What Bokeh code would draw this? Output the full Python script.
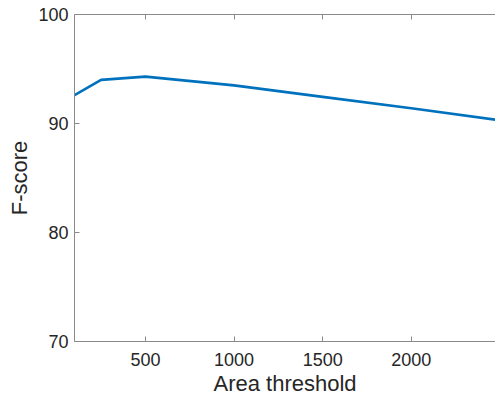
from bokeh.plotting import figure
from bokeh.models import LinearAxis, FixedTicker, Range1d
from bokeh.embed import file_html
from bokeh.resources import INLINE

area_threshold = [100, 250, 500, 1000, 1500, 2000, 2500]
f_score = [92.6, 94.0, 94.3, 93.5, 92.45, 91.4, 90.3]
x_ticks = [500, 1000, 1500, 2000, 2500]
y_ticks = [70, 80, 90, 100]

FONT = "Liberation Sans"
TXT = "#262626"
AX = "#8a8a8a"

p = figure(width=495, height=402, output_backend="svg", toolbar_location=None,
           x_range=Range1d(100, 2475), y_range=Range1d(70, 100),
           min_border_left=74, min_border_right=0, min_border_top=14, min_border_bottom=61)
p.outline_line_color = None
p.grid.visible = False
p.background_fill_color = "white"
p.border_fill_color = "white"

p.line(area_threshold, f_score, line_color="#0072BD", line_width=2.7)

for ax in (p.xaxis[0], p.yaxis[0]):
    ax.axis_line_color = AX
    ax.major_tick_line_color = AX
    ax.major_tick_in = 5
    ax.major_tick_out = 0
    ax.minor_tick_line_color = None
    ax.major_label_text_font = FONT
    ax.major_label_text_font_size = "18px"
    ax.major_label_text_color = TXT
    ax.axis_label_text_font = FONT
    ax.axis_label_text_font_size = "22px"
    ax.axis_label_text_font_style = "normal"
    ax.axis_label_text_color = TXT

p.xaxis[0].ticker = FixedTicker(ticks=x_ticks)
p.yaxis[0].ticker = FixedTicker(ticks=y_ticks)
p.xaxis[0].axis_label = "Area threshold"
p.yaxis[0].axis_label = "F-score"
p.xaxis[0].major_label_standoff = 11
p.xaxis[0].axis_label_standoff = 2
p.yaxis[0].major_label_standoff = 6
p.yaxis[0].axis_label_standoff = 3

top = LinearAxis(ticker=FixedTicker(ticks=x_ticks), axis_line_color=AX,
                 major_tick_line_color=AX, major_tick_in=5, major_tick_out=0,
                 minor_tick_line_color=None, major_label_text_font_size="1px",
                 major_label_text_color=None, major_label_standoff=0)
p.add_layout(top, "above")

open("out.html", "w").write(file_html(p, INLINE))
